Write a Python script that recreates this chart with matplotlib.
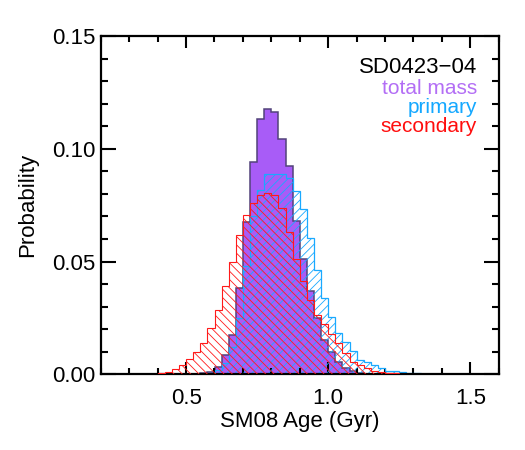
import numpy as np
import matplotlib
matplotlib.use("Agg")
import matplotlib.pyplot as plt
from matplotlib.ticker import MultipleLocator, FormatStrFormatter

plt.rcParams['font.family'] = ['Liberation Sans', 'DejaVu Sans']
plt.rcParams['hatch.linewidth'] = 0.6

# Binned age posteriors (bin width 0.025 Gyr)
bin_width = 0.025

total_start = 0.55
total_prob = [0.0004, 0.0012, 0.0034, 0.0085, 0.0174, 0.0383, 0.0677, 0.0943,
              0.1132, 0.1175, 0.1162, 0.1042, 0.0924, 0.0680, 0.0512, 0.0368,
              0.0252, 0.0153, 0.0100, 0.0056, 0.0027, 0.0014, 0.0007, 0.0003]

primary_start = 0.55
primary_prob = [0.0002, 0.0006, 0.0020, 0.0050, 0.0120, 0.0250, 0.0480, 0.0700,
                0.0817, 0.0888, 0.0888, 0.0888, 0.0869, 0.0813, 0.0732, 0.0603,
                0.0462, 0.0337, 0.0255, 0.0185, 0.0142, 0.0104, 0.0065, 0.0056,
                0.0041, 0.0027, 0.0016, 0.0014, 0.0010, 0.0007, 0.0004, 0.0003]

secondary_start = 0.40
secondary_prob = [0.0007, 0.0012, 0.0022, 0.0041, 0.0068, 0.0100, 0.0137, 0.0204,
                  0.0285, 0.0393, 0.0499, 0.0618, 0.0706, 0.0758, 0.0795, 0.0805,
                  0.0795, 0.0736, 0.0630, 0.0510, 0.0415, 0.0330, 0.0265, 0.0225,
                  0.0180, 0.0137, 0.0093, 0.0056, 0.0041, 0.0027, 0.0016, 0.0012,
                  0.0007, 0.0004, 0.0002]

labels = ["total mass", "primary", "secondary"]
title = "SD0423\u221204"


def edges_for(start, probs):
    return start + bin_width * np.arange(len(probs) + 1)


fig = plt.figure(figsize=(5.25, 4.5), dpi=100)
ax = fig.add_axes([0.192, 0.168, 0.758, 0.752])

purple = '#a85cf7'
blue = '#19a9ff'
red = '#ff1a1a'

ax.stairs(total_prob, edges_for(total_start, total_prob), fill=True,
          facecolor=purple, edgecolor='#52437a', linewidth=1.1, zorder=1)
ax.stairs(primary_prob, edges_for(primary_start, primary_prob), fill=True,
          facecolor='none', edgecolor=blue, hatch='////', linewidth=0.9, zorder=2)
ax.stairs(secondary_prob, edges_for(secondary_start, secondary_prob), fill=True,
          facecolor='none', edgecolor=red, hatch='\\\\\\\\', linewidth=0.8, zorder=3)

ax.set_xlim(0.2, 1.6)
ax.set_ylim(0, 0.15)
ax.xaxis.set_major_locator(MultipleLocator(0.5))
ax.xaxis.set_minor_locator(MultipleLocator(0.1))
ax.yaxis.set_major_locator(MultipleLocator(0.05))
ax.yaxis.set_minor_locator(MultipleLocator(0.01))
ax.xaxis.set_major_formatter(FormatStrFormatter('%.1f'))
ax.yaxis.set_major_formatter(FormatStrFormatter('%.2f'))

ax.tick_params(which='both', direction='in', top=True, right=True, width=1.5,
               labelsize=16, colors='black')
ax.tick_params(axis='x', which='major', length=8.5, pad=10)
ax.tick_params(axis='x', which='minor', length=4.3)
ax.tick_params(axis='y', which='major', length=10.8, pad=4)
ax.tick_params(axis='y', which='minor', length=5.2)
for s in ax.spines.values():
    s.set_linewidth(1.6)

ax.set_xlabel("SM08 Age (Gyr)", fontsize=16, labelpad=1)
ax.set_ylabel("Probability", fontsize=16, labelpad=10)

ax.text(0.945, 0.89, title, transform=ax.transAxes, ha='right', va='baseline',
        fontsize=16, color='black')
text_colors = ['#b36ef5', '#14a8ff', '#ff0d0d']
for i, (lab, c) in enumerate(zip(labels, text_colors)):
    ax.text(0.945, 0.828 - i * 0.056, lab, transform=ax.transAxes, ha='right',
            va='baseline', fontsize=15, color=c)

fig.savefig("out.png", dpi=100)
